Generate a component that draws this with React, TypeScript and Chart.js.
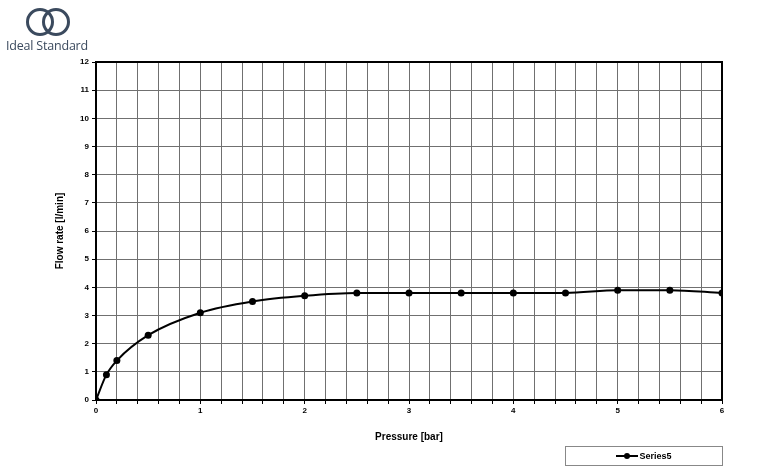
import React, { useEffect, useRef } from "react";
import { Chart, registerables } from "chart.js";

Chart.register(...registerables);

const pressure = [0, 0.1, 0.2, 0.5, 1, 1.5, 2, 2.5, 3, 3.5, 4, 4.5, 5, 5.5, 6];
const flowRate = [0, 0.9, 1.4, 2.3, 3.1, 3.5, 3.7, 3.8, 3.8, 3.8, 3.8, 3.8, 3.9, 3.9, 3.8];
const seriesName = "Series5";
const xTitle = "Pressure [bar]";
const yTitle = "Flow rate [l/min]";
const logoText = "Ideal Standard";

const FONT = "'Liberation Sans', Arial, sans-serif";

const boxPlugin = {
  id: "box",
  afterDraw(chart: any) {
    const { ctx, chartArea } = chart;
    ctx.save();
    ctx.strokeStyle = "#000";
    ctx.lineWidth = 2;
    ctx.strokeRect(chartArea.left, chartArea.top, chartArea.right - chartArea.left, chartArea.bottom - chartArea.top);
    ctx.restore();
  },
};

export default function App() {
  const ref = useRef<HTMLCanvasElement | null>(null);
  useEffect(() => {
    if (!ref.current) return;
    const chart = new Chart(ref.current, {
      type: "line",
      data: {
        datasets: [
          {
            label: seriesName,
            data: pressure.map((p, i) => ({ x: p, y: flowRate[i] })),
            borderColor: "#000",
            backgroundColor: "#000",
            borderWidth: 2,
            pointRadius: 3.5,
            pointBorderWidth: 0,
            pointBackgroundColor: "#000",
            pointBorderColor: "#000",
            cubicInterpolationMode: "monotone",
            fill: false,
          },
        ],
      },
      options: {
        animation: false,
        responsive: false,
        maintainAspectRatio: false,
        layout: { padding: { top: 62, right: 58, left: 0, bottom: 0 } },
        plugins: { legend: { display: false }, tooltip: { enabled: false } },
        scales: {
          x: {
            type: "linear",
            min: 0,
            max: 6,
            afterFit(scale: any) {
              scale.height = 74;
            },
            ticks: {
              stepSize: 0.2,
              autoSkip: false,
              maxRotation: 0,
              padding: 2,
              color: "#000",
              font: { family: FONT, size: 8, weight: "bold" },
              callback: (v: any) => {
                const n = Number(v);
                return Math.abs(n - Math.round(n)) < 1e-6 ? String(Math.round(n)) : "";
              },
            },
            grid: { color: "#707070", lineWidth: 1, tickLength: 4, tickColor: "#000" },
            border: { color: "#000", width: 2 },
            title: {
              display: true,
              text: xTitle,
              color: "#000",
              font: { family: FONT, size: 10, weight: "bold" },
              padding: { top: 4, bottom: 31 },
            },
          },
          y: {
            min: 0,
            max: 12,
            afterFit(scale: any) {
              scale.width = 96;
            },
            ticks: {
              stepSize: 1,
              padding: 3,
              color: "#000",
              font: { family: FONT, size: 8, weight: "bold" },
            },
            grid: { color: "#707070", lineWidth: 1, tickLength: 4, tickColor: "#000" },
            border: { color: "#000", width: 2 },
            title: {
              display: true,
              text: yTitle,
              color: "#000",
              font: { family: FONT, size: 10, weight: "bold" },
              padding: { top: 54, bottom: 4 },
            },
          },
        },
      },
      plugins: [boxPlugin],
    } as any);
    return () => chart.destroy();
  }, []);

  return (
    <div style={{ position: "absolute", left: 0, top: 0, width: 780, height: 474, background: "#fff", overflow: "hidden" }}>
      <canvas ref={ref} width={780} height={474} style={{ position: "absolute", left: 0, top: 0, width: 780, height: 474 }} />
      <svg width={100} height={40} style={{ position: "absolute", left: 0, top: 0 }}>
        <circle cx={40} cy={22} r={12.5} fill="none" stroke="#3b4a5e" strokeWidth={3} />
        <circle cx={56} cy={22} r={12.5} fill="none" stroke="#3b4a5e" strokeWidth={3} />
      </svg>
      <div
        style={{
          position: "absolute",
          left: 6,
          top: 37,
          fontFamily: "'Open Sans', 'Noto Sans', sans-serif",
          fontSize: 12.5,
          color: "#3b4a5e",
          whiteSpace: "nowrap",
          letterSpacing: -0.2,
        }}
      >
        {logoText}
      </div>
      <div
        style={{
          position: "absolute",
          left: 565,
          top: 446,
          width: 158,
          height: 20,
          border: "1px solid #888",
          boxSizing: "border-box",
          display: "flex",
          alignItems: "center",
          justifyContent: "center",
          fontFamily: FONT,
          fontSize: 9,
          fontWeight: "bold",
          color: "#000",
        }}
      >
        <svg width={22} height={8} style={{ marginRight: 1 }}>
          <line x1={0} y1={4} x2={22} y2={4} stroke="#000" strokeWidth={2} />
          <circle cx={11} cy={4} r={3} fill="#000" />
        </svg>
        <span>{seriesName}</span>
      </div>
    </div>
  );
}
